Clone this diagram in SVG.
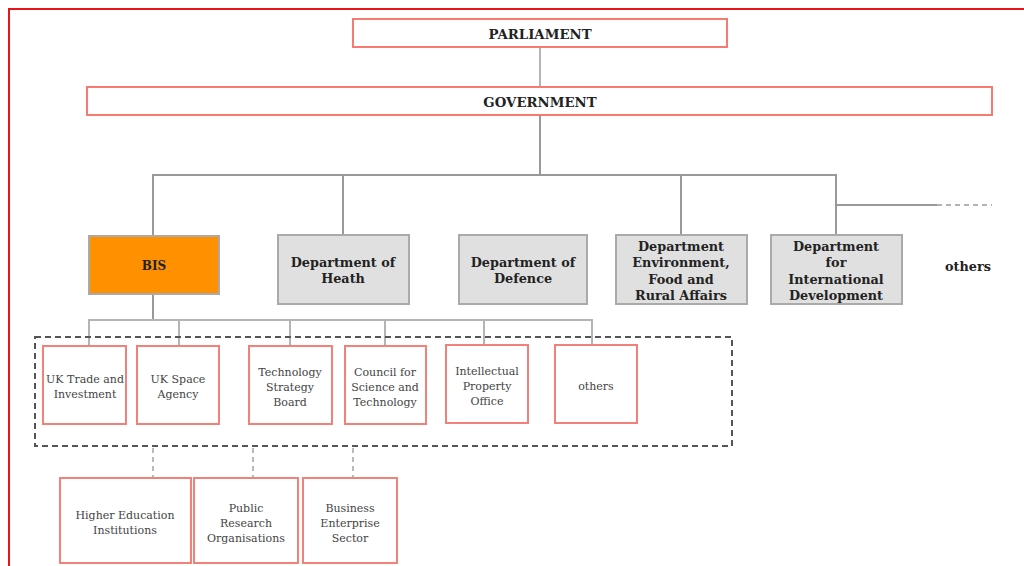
<svg xmlns="http://www.w3.org/2000/svg" width="1024" height="566" viewBox="0 0 1024 566">
<style>
.frame{fill:none;stroke:#e8141a;stroke-width:2}
.top{fill:#fff;stroke:#f47a72;stroke-width:2}
.dept{fill:#e0e0e0;stroke:#aaa;stroke-width:2}
.bis{fill:#ff9100;stroke:#aaa;stroke-width:2}
.org{fill:#fff;stroke:#f2817a;stroke-width:2}
.ln{fill:none;stroke:#b4b4b4;stroke-width:2}
.ln2{fill:none;stroke:#999;stroke-width:2}
.dash{fill:none;stroke:#555;stroke-width:2;stroke-dasharray:6 4}
.ldash{fill:none;stroke:#bbb;stroke-width:2;stroke-dasharray:5 4}
.b{font-family:"DejaVu Serif","Liberation Serif",serif;font-weight:bold;fill:#222;text-anchor:middle;dominant-baseline:central}
.r{font-family:"DejaVu Serif","Liberation Serif",serif;fill:#444;text-anchor:middle;dominant-baseline:central;font-size:11px}
</style>
<rect class="frame" x="9" y="9" width="1030" height="570"/>
<g id="connectors">
<line class="ln" x1="540" y1="47" x2="540" y2="87"/>
<line class="ln2" x1="540" y1="115" x2="540" y2="175"/>
<polyline class="ln2" points="153,236 153,175 836,175 836,236"/>
<line class="ln2" x1="343" y1="175" x2="343" y2="235"/>
<line class="ln2" x1="681" y1="175" x2="681" y2="235"/>
<line class="ln2" x1="836" y1="205" x2="937" y2="205"/>
<line class="ln" x1="937" y1="205" x2="992" y2="205" stroke-dasharray="5 4"/>
<line class="ln2" x1="153" y1="294" x2="153" y2="320"/>
<polyline class="ln" points="89,346 89,320 592,320 592,346"/>
<line class="ln" x1="179" y1="320" x2="179" y2="346"/>
<line class="ln" x1="290" y1="320" x2="290" y2="346"/>
<line class="ln" x1="385" y1="320" x2="385" y2="346"/>
<line class="ln" x1="484" y1="320" x2="484" y2="345"/>
<rect class="dash" x="35" y="337" width="697" height="109"/>
<line class="ldash" x1="153" y1="448" x2="153" y2="478"/>
<line class="ldash" x1="253" y1="448" x2="253" y2="478"/>
<line class="ldash" x1="353" y1="448" x2="353" y2="478"/>
</g>
<g id="parliament"><rect class="top" x="353" y="19" width="374" height="28"/><text class="b" x="540" y="34" font-size="13.3">PARLIAMENT</text></g>
<g id="government"><rect class="top" x="87" y="87" width="905" height="28"/><text class="b" x="540" y="102" font-size="13.3">GOVERNMENT</text></g>
<g id="bis"><rect class="bis" x="89" y="236" width="130" height="58"/><text class="b" x="154" y="266" font-size="12">BIS</text></g>
<g id="health"><rect class="dept" x="278" y="235" width="131" height="69"/><text class="b" font-size="12.8"><tspan x="343" y="262">Department of</tspan><tspan x="343" y="278">Heath</tspan></text></g>
<g id="defence"><rect class="dept" x="459" y="235" width="128" height="69"/><text class="b" font-size="12.8"><tspan x="523" y="262">Department of</tspan><tspan x="523" y="278">Defence</tspan></text></g>
<g id="defra"><rect class="dept" x="616" y="235" width="131" height="69"/><text class="b" font-size="12.8"><tspan x="681" y="246">Department</tspan><tspan x="681" y="262">Environment,</tspan><tspan x="681" y="279">Food and</tspan><tspan x="681" y="295">Rural Affairs</tspan></text></g>
<g id="dfid"><rect class="dept" x="771" y="235" width="131" height="69"/><text class="b" font-size="12.8"><tspan x="836" y="246">Department</tspan><tspan x="836" y="262">for</tspan><tspan x="836" y="279">International</tspan><tspan x="836" y="295">Development</tspan></text></g>
<g id="others-dept"><text class="b" x="968" y="266" font-size="12.8">others</text></g>
<g id="ukti"><rect class="org" x="43" y="346" width="83" height="78"/><text class="r"><tspan x="85" y="379">UK Trade and</tspan><tspan x="85" y="394">Investment</tspan></text></g>
<g id="ukspace"><rect class="org" x="137" y="346" width="82" height="78"/><text class="r"><tspan x="178" y="379">UK Space</tspan><tspan x="178" y="394">Agency</tspan></text></g>
<g id="tsb"><rect class="org" x="249" y="346" width="83" height="78"/><text class="r"><tspan x="290" y="372">Technology</tspan><tspan x="290" y="387">Strategy</tspan><tspan x="290" y="402">Board</tspan></text></g>
<g id="cst"><rect class="org" x="345" y="346" width="81" height="78"/><text class="r"><tspan x="385" y="372">Council for</tspan><tspan x="385" y="387">Science and</tspan><tspan x="385" y="402">Technology</tspan></text></g>
<g id="ipo"><rect class="org" x="446" y="345" width="82" height="78"/><text class="r"><tspan x="487" y="371">Intellectual</tspan><tspan x="487" y="386">Property</tspan><tspan x="487" y="401">Office</tspan></text></g>
<g id="others-bis"><rect class="org" x="555" y="345" width="82" height="78"/><text class="r" x="596" y="386">others</text></g>
<g id="hei"><rect class="org" x="60" y="478" width="131" height="85"/><text class="r"><tspan x="125" y="515">Higher Education</tspan><tspan x="125" y="530">Institutions</tspan></text></g>
<g id="pro"><rect class="org" x="194" y="478" width="104" height="85"/><text class="r"><tspan x="246" y="508">Public</tspan><tspan x="246" y="523">Research</tspan><tspan x="246" y="538">Organisations</tspan></text></g>
<g id="bes"><rect class="org" x="303" y="478" width="94" height="85"/><text class="r"><tspan x="350" y="508">Business</tspan><tspan x="350" y="523">Enterprise</tspan><tspan x="350" y="538">Sector</tspan></text></g>
</svg>
